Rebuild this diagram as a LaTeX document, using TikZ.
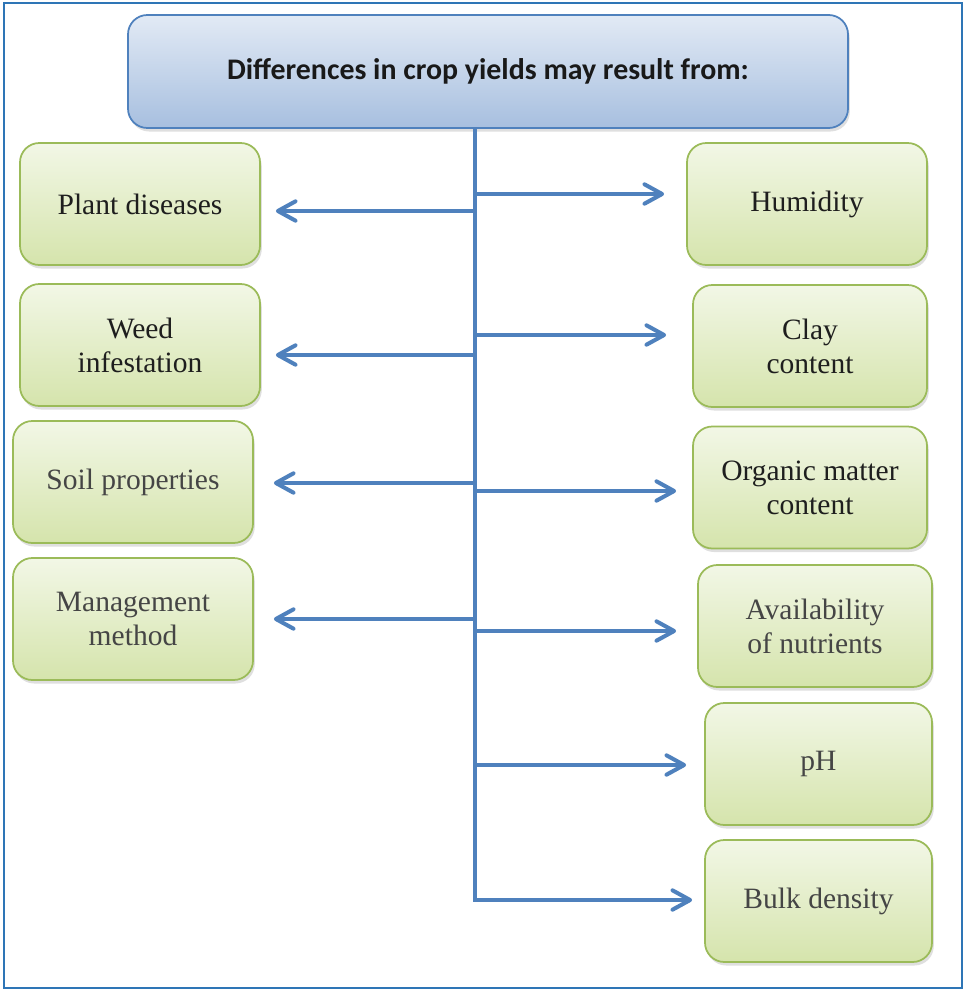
\documentclass[tikz,border=0pt]{standalone}
\usepackage{fontspec}
\setmainfont{Liberation Serif}
\newfontfamily\headfont{Carlito}
\usetikzlibrary{arrows.meta, positioning, shadows}
\definecolor{cropblue}{HTML}{4F81BD}
\definecolor{frameblue}{HTML}{2E75B6}
\definecolor{headtop}{HTML}{E2EAF5}
\definecolor{headbot}{HTML}{A7BFDF}
\definecolor{boxtop}{HTML}{F2F7E6}
\definecolor{boxbot}{HTML}{D5E4AC}
\definecolor{boxline}{HTML}{9BBB59}
\definecolor{textdark}{HTML}{1E1E1E}
\definecolor{textgray}{HTML}{454545}

\begin{document}
\begin{tikzpicture}[
    head/.style={draw=cropblue, line width=1pt, top color=headtop, bottom color=headbot,
                 rounded corners=11pt, minimum width=14.4cm, minimum height=2.26cm,
                 text=black!90, font=\headfont\bfseries\fontsize{17}{20}\selectfont,
                 drop shadow={shadow xshift=1pt, shadow yshift=-2pt, opacity=0.25}},
    cause/.style={draw=boxline, line width=1pt, top color=boxtop, bottom color=boxbot,
                  rounded corners=11pt, minimum width=#1, minimum height=2.44cm,
                  align=center, text=textdark, font=\fontsize{16.8}{19.4}\selectfont,
                  drop shadow={shadow xshift=1pt, shadow yshift=-2pt, opacity=0.25}},
    cause/.default=4.8cm,
    branch/.style={cropblue, line width=2.3pt,
                   -{Straight Barb[length=10pt, width=11pt, line cap=round, line join=round]}},
]
    \useasboundingbox (0,0) rectangle (19.3,-19.8);
    \draw[frameblue, line width=1.3pt] (0.08,-0.06) rectangle (19.24,-19.76);

    \node[head] (head) at (9.76, -1.43) {Differences in crop yields may result from:};

    % Left column
    \node[cause] (plant) at (2.8, -4.08) {Plant diseases};
    \node[cause] (weed) at (2.8, -6.9) {Weed\\infestation};
    \node[cause, text=textgray] (soil) at (2.66, -9.64) {Soil properties};
    \node[cause, text=textgray] (mgmt) at (2.66, -12.38) {Management\\method};

    % Right column
    \node[cause] (humid) at (16.14, -4.08) {Humidity};
    \node[cause=4.68cm] (clay) at (16.2, -6.92) {Clay\\content};
    \node[cause=4.68cm] (organic) at (16.2, -9.75) {Organic matter\\content};
    \node[cause=4.68cm, text=textgray] (nutri) at (16.3, -12.52) {Availability\\of nutrients};
    \node[cause=4.54cm, text=textgray] (ph) at (16.37, -15.28) {pH};
    \node[cause=4.54cm, text=textgray] (bulk) at (16.37, -18.02) {Bulk density};

    % Trunk junctions
    \coordinate (root) at ([xshift=-0.26cm]head.south);
    \coordinate (foot) at (9.5, -18.0);
    \coordinate (jplant) at (9.5, -4.22);
    \coordinate (jweed) at (9.5, -7.1);
    \coordinate (jsoil) at (9.5, -9.66);
    \coordinate (jmgmt) at (9.5, -12.38);
    \coordinate (jhumid) at (9.5, -3.88);
    \coordinate (jclay) at (9.5, -6.7);
    \coordinate (jorganic) at (9.5, -9.82);
    \coordinate (jnutri) at (9.5, -12.62);
    \coordinate (jph) at (9.5, -15.3);

    % Trunk running down into the last branch
    \draw[branch, shorten >=0.24cm] (root) -- (foot) -- (bulk.west |- foot);

    % Branches to the left
    \draw[branch, shorten >=0.3cm] (jplant) -- (plant.east |- jplant);
    \draw[branch, shorten >=0.3cm] (jweed) -- (weed.east |- jweed);
    \draw[branch, shorten >=0.4cm] (jsoil) -- (soil.east |- jsoil);
    \draw[branch, shorten >=0.4cm] (jmgmt) -- (mgmt.east |- jmgmt);

    % Branches to the right
    \draw[branch, shorten >=0.44cm] (jhumid) -- (humid.west |- jhumid);
    \draw[branch, shorten >=0.52cm] (jclay) -- (clay.west |- jclay);
    \draw[branch, shorten >=0.32cm] (jorganic) -- (organic.west |- jorganic);
    \draw[branch, shorten >=0.42cm] (jnutri) -- (nutri.west |- jnutri);
    \draw[branch, shorten >=0.36cm] (jph) -- (ph.west |- jph);
\end{tikzpicture}
\end{document}
